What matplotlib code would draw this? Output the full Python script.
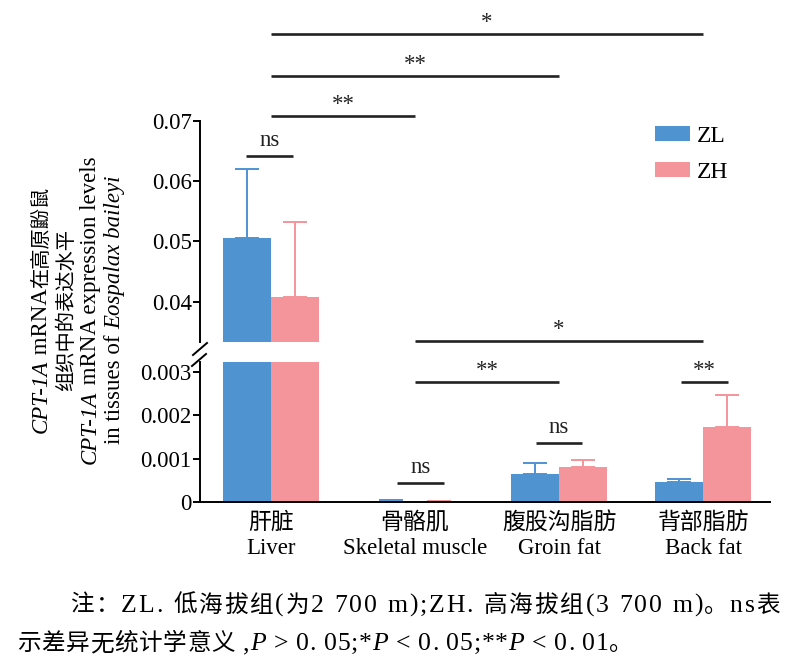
import matplotlib
matplotlib.use("Agg")
import matplotlib.pyplot as plt
from matplotlib.lines import Line2D
import numpy as np

# ---------------- data ----------------
categories_cn = ['肝脏', '骨骼肌', '腹股沟脂肪', '背部脂肪']
categories_en = ['Liver', 'Skeletal muscle', 'Groin fat', 'Back fat']
zl_mean = [0.0505, 0.00001, 0.00064, 0.00045]
zl_err = [0.0115, 0.00004, 0.00025, 0.00008]
zh_mean = [0.0407, 0.00001, 0.00080, 0.00174]
zh_err = [0.0125, 0.00002, 0.00018, 0.00073]
series_labels = ['ZL', 'ZH']
top_ticks = [0.04, 0.05, 0.06, 0.07]
top_ticklabels = ['0.04', '0.05', '0.06', '0.07']
bot_ticks = [0, 0.001, 0.002, 0.003]
bot_ticklabels = ['0', '0.001', '0.002', '0.003']
# significance brackets: (x1, x2, y, label)
top_sig = [(0, 3, 0.08445, '*'), (0, 2, 0.07747, '**'), (0, 1, 0.07083, '**'),
           (-0.174, 0.153, 0.06419, 'ns')]
bot_sig = [(1, 3, 0.003715, '*'), (1, 2, 0.002769, '**'), (2.85, 3.17, 0.002769, '**'),
           (1.84, 2.16, 0.001361, 'ns'), (0.875, 1.201, 0.000438, 'ns')]

# ---------------- style ----------------
LAT = ['Liberation Serif']
CJK = ['Noto Sans CJK SC', 'Liberation Serif']
FAM = ['Liberation Serif', 'Noto Sans CJK SC']
plt.rcParams['font.family'] = FAM
BLUE = '#4F93D1'
PINK = '#F4959B'
FS = 16.5
W, H = 800, 664

fig = plt.figure(figsize=(W / 100, H / 100), dpi=100)

def fx(px):
    return px / W

def fy(py):
    return 1 - py / H

L, R = 200, 770
ax_top = fig.add_axes([fx(L), fy(342), fx(R - L), (342 - 121) / H])
ax_bot = fig.add_axes([fx(L), fy(502), fx(R - L), (502 - 362) / H])

x = np.arange(len(categories_cn))
bw = 1 / 3
for ax in (ax_top, ax_bot):
    ax.bar(x - bw / 2, zl_mean, bw, color=BLUE, label=series_labels[0], zorder=2)
    ax.bar(x + bw / 2, zh_mean, bw, color=PINK, label=series_labels[1], zorder=2)
    ax.errorbar(x - bw / 2, zl_mean, yerr=[np.zeros(4), zl_err], fmt='none',
                ecolor=BLUE, elinewidth=1.4, capsize=8.3, capthick=1.4, zorder=1)
    ax.errorbar(x + bw / 2, zh_mean, yerr=[np.zeros(4), zh_err], fmt='none',
                ecolor=PINK, elinewidth=1.4, capsize=8.3, capthick=1.4, zorder=1)
    ax.set_xlim(-0.493, 3.465)
    for s in ('top', 'right'):
        ax.spines[s].set_visible(False)
    ax.spines['left'].set_linewidth(1.4)
    ax.spines['bottom'].set_linewidth(1.4)
    ax.tick_params(axis='y', direction='out', length=5, width=1.4, pad=1, labelsize=FS)
    ax.patch.set_alpha(0)

ax_top.set_ylim(0.0333, 0.07)
ax_top.spines['bottom'].set_visible(False)
ax_top.set_xticks([])
ax_top.set_yticks(top_ticks)
ax_top.set_yticklabels(top_ticklabels)

ax_bot.set_ylim(0, 0.00323)
ax_bot.set_yticks(bot_ticks)
ax_bot.set_yticklabels(bot_ticklabels)
ax_bot.set_xticks(x)
ax_bot.set_xticklabels([c + '\n' + e for c, e in zip(categories_cn, categories_en)],
                       fontsize=FS, linespacing=1.3)
ax_bot.tick_params(axis='x', length=0, pad=7)

# break marks
for (x1, y1, x2, y2) in [(193, 355, 207, 343), (192, 366, 206, 354)]:
    fig.add_artist(Line2D([fx(x1), fx(x2)], [fy(y1), fy(y2)], color='black', lw=1.4))

# significance brackets
def draw_sig(ax, items):
    for x1, x2, y, lab in items:
        ax.plot([x1, x2], [y, y], color='#222222', lw=1.9, clip_on=False, solid_capstyle='butt')
        off = 7 if lab == 'ns' else 4
        ax.annotate(lab, xy=((x1 + x2) / 2, y), xytext=(0, off), textcoords='offset points',
                    ha='center', va='baseline', fontsize=FS, annotation_clip=False,
                    color='#222222')

draw_sig(ax_top, top_sig)
draw_sig(ax_bot, bot_sig)

# legend
ax_top.legend(loc='upper left', bbox_to_anchor=(fx(655), fy(126)), bbox_transform=fig.transFigure,
              frameon=False, fontsize=17, handlelength=1.48, handleheight=0.6,
              handletextpad=0.3, labelspacing=0.62, borderpad=0, borderaxespad=0)

# ---------------- rich text helper ----------------
renderer = fig.canvas.get_renderer()

def measure(s, fam, style, size):
    t1 = fig.text(0, 0, '|' + s + '|', fontsize=size, style=style, family=fam)
    t2 = fig.text(0, 0, '||', fontsize=size, style=style, family=fam)
    w = t1.get_window_extent(renderer).width - t2.get_window_extent(renderer).width
    t1.remove(); t2.remove()
    return w

def rich(pieces, x0=None, y0=None, rotation=0, center=None, end=None):
    if end is not None:
        # split into single characters for even tracking
        pieces = [(ch, fam, st, sz) for (s, fam, st, sz) in pieces for ch in s]
    widths = [measure(*p) for p in pieces]
    total = sum(widths)
    gap = 0
    if end is not None and len(pieces) > 1:
        gap = ((end - x0) - total) / (len(pieces) - 1)
    if rotation == 90:
        bx, cy = center
        pos = cy + total / 2
        for (s, fam, st, sz), w in zip(pieces, widths):
            fig.text(fx(bx), fy(pos), s, fontsize=sz, style=st, family=fam, rotation=90,
                     rotation_mode='anchor', ha='left', va='baseline')
            pos -= w
    else:
        pos = x0
        for (s, fam, st, sz), w in zip(pieces, widths):
            if s.strip():
                fig.text(fx(pos), fy(y0), s, fontsize=sz, style=st, family=fam,
                         ha='left', va='baseline')
            pos += w + gap

# y label (4 lines)
YC = 14.6
ylab_lines = [
    [('CPT-1A', LAT, 'italic', FS), (' mRNA', LAT, 'normal', FS), ('在高原鼢鼠', CJK, 'normal', YC)],
    [('组织中的表达水平', CJK, 'normal', YC)],
    [('CPT-1A', LAT, 'italic', FS), (' mRNA expression levels', LAT, 'normal', FS)],
    [('in tissues of ', LAT, 'normal', FS), ('Eospalax baileyi', LAT, 'italic', FS)],
]
for pcs, cx in zip(ylab_lines, [40, 65, 89, 113]):
    rich(pcs, rotation=90, center=(cx + 7, 310))

# note
NC, NL = 17.0, 18.5
line1 = [('注：', CJK, 'normal', NC), ('ZL. ', LAT, 'normal', NL), ('低海拔组', CJK, 'normal', NC),
         ('(', LAT, 'normal', NL), ('为', CJK, 'normal', NC), ('2 700 m);ZH. ', LAT, 'normal', NL),
         ('高海拔组', CJK, 'normal', NC), ('(3 700 m)', LAT, 'normal', NL), ('。', CJK, 'normal', NC),
         ('ns', LAT, 'normal', NL), ('表', CJK, 'normal', NC)]
line2 = [('示差异无统计学意义', CJK, 'normal', NC), (' ,', LAT, 'normal', NL), ('P', LAT, 'italic', NL),
         (' > 0. 05;*', LAT, 'normal', NL), ('P', LAT, 'italic', NL), (' < 0. 05;**', LAT, 'normal', NL),
         ('P', LAT, 'italic', NL), (' < 0. 01', LAT, 'normal', NL), ('。', CJK, 'normal', NC)]
rich(line1, x0=70, y0=612, end=780)
rich(line2, x0=17, y0=650, end=633)

fig.savefig('out.png', dpi=100)
